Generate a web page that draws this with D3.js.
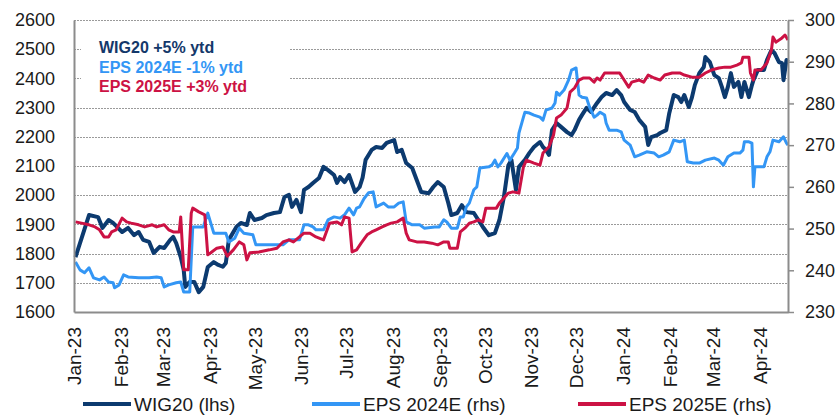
<!DOCTYPE html>
<html>
<head>
<meta charset="utf-8">
<script src="https://cdn.jsdelivr.net/npm/d3@7"></script>
<style>
  body { margin: 0; background: #fff; }
  svg { font-family: "Liberation Sans", Arial, sans-serif; display: block; }
</style>
</head>
<body>
<svg id="chart" width="837" height="415"></svg>
<script>
// values
const wig20 = [
  ["2023-01-02",1788],["2023-01-11",1932],["2023-01-17",1925],["2023-01-20",1888],["2023-01-24",1915],["2023-01-27",1905],
  ["2023-02-02",1874],["2023-02-06",1888],["2023-02-10",1863],["2023-02-13",1874],["2023-02-16",1847],["2023-02-20",1840],
  ["2023-02-23",1802],["2023-02-27",1823],["2023-03-02",1819],["2023-03-06",1847],["2023-03-08",1857],["2023-03-10",1836],
  ["2023-03-13",1788],["2023-03-15",1744],["2023-03-16",1686],["2023-03-19",1703],["2023-03-22",1703],["2023-03-25",1668],
  ["2023-03-28",1686],["2023-03-31",1754],["2023-04-04",1771],["2023-04-07",1761],["2023-04-10",1755],["2023-04-12",1768],
  ["2023-04-14",1847],["2023-04-19",1891],["2023-04-22",1905],["2023-04-26",1898],["2023-04-28",1939],["2023-05-01",1915],
  ["2023-05-06",1922],["2023-05-09",1932],["2023-05-14",1939],["2023-05-18",1942],["2023-05-21",1994],["2023-05-24",2001],
  ["2023-05-26",1960],["2023-05-29",1984],["2023-06-01",1942],["2023-06-03",2018],["2023-06-06",2028],["2023-06-09",2042],
  ["2023-06-13",2059],["2023-06-16",2097],["2023-06-19",2086],["2023-06-23",2069],["2023-06-25",2042],["2023-06-27",2062],
  ["2023-06-30",2045],["2023-07-03",2069],["2023-07-07",2011],["2023-07-10",2028],["2023-07-12",2060],["2023-07-14",2121],
  ["2023-07-18",2155],["2023-07-21",2165],["2023-07-25",2162],["2023-07-28",2179],["2023-08-02",2189],["2023-08-04",2148],
  ["2023-08-07",2155],["2023-08-10",2110],["2023-08-14",2093],["2023-08-17",2052],["2023-08-20",2011],["2023-08-25",2007],
  ["2023-08-28",2028],["2023-08-31",2045],["2023-09-04",2028],["2023-09-07",1973],["2023-09-09",1932],["2023-09-13",1939],
  ["2023-09-16",1966],["2023-09-19",1942],["2023-09-24",1939],["2023-09-27",1915],["2023-09-30",1891],["2023-10-04",1863],
  ["2023-10-08",1870],["2023-10-11",1915],["2023-10-14",1994],["2023-10-17",2103],["2023-10-19",2121],["2023-10-22",2018],
  ["2023-10-24",2097],["2023-10-28",2121],["2023-10-31",2145],["2023-11-03",2165],["2023-11-07",2182],["2023-11-09",2165],
  ["2023-11-11",2155],["2023-11-13",2138],["2023-11-15",2223],["2023-11-18",2247],["2023-11-21",2234],["2023-11-25",2216],
  ["2023-11-28",2206],["2023-11-30",2223],["2023-12-03",2258],["2023-12-05",2275],["2023-12-08",2299],["2023-12-11",2285],
  ["2023-12-15",2316],["2023-12-18",2336],["2023-12-21",2350],["2023-12-25",2343],["2023-12-28",2360],["2023-12-31",2343],
  ["2024-01-02",2319],["2024-01-06",2292],["2024-01-09",2285],["2024-01-12",2258],["2024-01-16",2234],["2024-01-18",2172],
  ["2024-01-20",2199],["2024-01-24",2206],["2024-01-26",2213],["2024-01-30",2223],["2024-02-01",2281],["2024-02-04",2343],
  ["2024-02-07",2336],["2024-02-09",2319],["2024-02-11",2343],["2024-02-14",2302],["2024-02-16",2333],["2024-02-18",2377],
  ["2024-02-21",2418],["2024-02-24",2439],["2024-02-25",2473],["2024-02-28",2456],["2024-03-02",2411],["2024-03-05",2401],
  ["2024-03-07",2371],["2024-03-09",2336],["2024-03-11",2371],["2024-03-13",2418],["2024-03-15",2371],["2024-03-18",2388],
  ["2024-03-20",2336],["2024-03-22",2388],["2024-03-25",2336],["2024-03-27",2377],["2024-03-28",2394],["2024-03-31",2429],
  ["2024-04-04",2429],["2024-04-06",2463],["2024-04-09",2497],["2024-04-11",2487],["2024-04-14",2456],["2024-04-16",2452],
  ["2024-04-17",2394],["2024-04-19",2463],["2024-04-20",2456]
];

const eps2024 = [
  ["2023-01-02",242.0],["2023-01-05",240.1],["2023-01-08",239.4],["2023-01-11",240.6],["2023-01-14",238.2],["2023-01-18",237.7],
  ["2023-01-21",238.4],["2023-01-24",237.2],["2023-01-27",237.0],["2023-01-28",235.8],["2023-01-31",236.5],["2023-02-03",238.9],
  ["2023-02-06",238.4],["2023-02-13",238.2],["2023-02-20",238.2],["2023-02-25",238.4],["2023-02-28",238.2],["2023-03-02",236.0],
  ["2023-03-05",236.5],["2023-03-10",237.0],["2023-03-13",237.2],["2023-03-15",234.8],["2023-03-19",234.8],["2023-03-21",250.4],
  ["2023-03-28",250.4],["2023-03-31",253.7],["2023-04-04",248.9],["2023-04-12",248.9],["2023-04-14",246.8],["2023-04-18",247.7],
  ["2023-04-21",250.1],["2023-04-24",248.9],["2023-04-30",248.5],["2023-05-02",246.1],["2023-05-20",246.1],["2023-05-24",247.3],
  ["2023-05-31",247.3],["2023-06-03",250.9],["2023-06-06",250.9],["2023-06-09",250.4],["2023-06-11",249.7],["2023-06-16",249.7],
  ["2023-06-19",252.1],["2023-06-23",252.8],["2023-06-27",252.5],["2023-06-30",253.3],["2023-07-03",254.9],["2023-07-06",253.3],
  ["2023-07-08",254.9],["2023-07-10",255.2],["2023-07-13",257.2],["2023-07-16",258.6],["2023-07-19",258.8],["2023-07-21",255.2],
  ["2023-07-26",256.1],["2023-07-29",255.2],["2023-08-02",255.2],["2023-08-05",256.1],["2023-08-08",256.4],["2023-08-10",251.6],
  ["2023-08-14",250.9],["2023-08-19",250.9],["2023-08-22",250.1],["2023-08-29",250.4],["2023-09-01",250.4],["2023-09-04",252.1],
  ["2023-09-06",251.6],["2023-09-09",250.1],["2023-09-13",250.1],["2023-09-15",252.8],["2023-09-17",252.8],["2023-09-19",255.2],
  ["2023-09-21",256.1],["2023-09-24",259.3],["2023-09-26",260.0],["2023-09-28",264.5],["2023-10-04",264.8],["2023-10-06",265.2],
  ["2023-10-08",266.4],["2023-10-10",264.8],["2023-10-12",265.7],["2023-10-16",268.0],["2023-10-18",266.4],["2023-10-21",268.1],
  ["2023-10-23",269.3],["2023-10-24",272.9],["2023-10-27",276.7],["2023-10-28",277.9],["2023-10-31",277.7],["2023-11-03",277.2],
  ["2023-11-07",276.7],["2023-11-09",276.0],["2023-11-11",278.4],["2023-11-15",278.9],["2023-11-17",280.1],["2023-11-18",282.7],
  ["2023-11-20",282.0],["2023-11-23",283.2],["2023-11-26",285.6],["2023-11-28",288.0],["2023-12-01",288.5],["2023-12-03",282.0],
  ["2023-12-05",281.5],["2023-12-08",281.3],["2023-12-10",279.1],["2023-12-13",276.7],["2023-12-15",277.2],["2023-12-17",277.9],
  ["2023-12-20",277.2],["2023-12-21",275.3],["2023-12-23",273.6],["2023-12-28",273.6],["2023-12-31",273.2],["2024-01-02",271.2],
  ["2024-01-06",270.0],["2024-01-09",267.2],["2024-01-12",267.6],["2024-01-17",268.4],["2024-01-22",268.1],["2024-01-25",267.2],
  ["2024-01-28",267.6],["2024-02-01",268.4],["2024-02-04",271.2],["2024-02-08",270.8],["2024-02-11",271.2],["2024-02-13",266.0],
  ["2024-02-17",265.7],["2024-02-21",265.7],["2024-02-25",266.4],["2024-03-02",266.9],["2024-03-05",266.4],["2024-03-08",265.2],
  ["2024-03-11",267.2],["2024-03-15",268.1],["2024-03-19",268.1],["2024-03-21",268.8],["2024-03-22",270.8],["2024-03-25",270.8],
  ["2024-03-27",270.5],["2024-03-28",260.0],["2024-03-29",264.8],["2024-04-04",264.8],["2024-04-06",267.2],["2024-04-08",268.4],
  ["2024-04-10",271.2],["2024-04-14",270.8],["2024-04-17",272.0],["2024-04-19",270.5],["2024-04-20",270.0]
];

const eps2025 = [
  ["2023-01-02",251.6],["2023-01-06",251.3],["2023-01-11",250.9],["2023-01-15",250.4],["2023-01-18",249.7],["2023-01-21",248.0],
  ["2023-01-24",248.0],["2023-01-26",249.2],["2023-01-29",249.7],["2023-02-02",252.5],["2023-02-05",251.6],["2023-02-08",251.3],
  ["2023-02-13",250.9],["2023-02-17",250.4],["2023-02-22",250.9],["2023-02-25",250.4],["2023-03-02",250.9],["2023-03-05",249.7],
  ["2023-03-08",249.2],["2023-03-12",249.2],["2023-03-13",252.8],["2023-03-15",240.1],["2023-03-18",240.1],["2023-03-20",253.7],
  ["2023-03-21",254.9],["2023-03-25",254.0],["2023-03-29",253.3],["2023-03-31",243.7],["2023-04-02",244.2],["2023-04-06",245.3],
  ["2023-04-10",245.6],["2023-04-13",243.4],["2023-04-17",244.9],["2023-04-21",246.8],["2023-04-24",246.1],["2023-04-26",242.5],
  ["2023-04-28",244.2],["2023-05-04",244.4],["2023-05-11",244.9],["2023-05-16",245.3],["2023-05-20",246.8],["2023-05-24",247.3],
  ["2023-05-27",246.8],["2023-05-31",248.0],["2023-06-03",248.9],["2023-06-07",248.9],["2023-06-11",248.0],["2023-06-16",247.3],
  ["2023-06-20",251.3],["2023-06-25",251.6],["2023-06-28",250.9],["2023-06-30",252.8],["2023-07-03",252.5],["2023-07-05",244.4],
  ["2023-07-08",244.9],["2023-07-11",246.5],["2023-07-15",248.5],["2023-07-18",249.2],["2023-07-21",249.7],["2023-07-25",250.4],
  ["2023-07-28",250.9],["2023-07-31",251.3],["2023-08-04",251.6],["2023-08-08",252.5],["2023-08-10",248.9],["2023-08-12",247.3],
  ["2023-08-17",246.8],["2023-08-22",246.8],["2023-08-27",246.5],["2023-08-31",246.1],["2023-09-04",246.8],["2023-09-07",246.8],
  ["2023-09-08",245.3],["2023-09-13",245.3],["2023-09-15",249.2],["2023-09-18",250.1],["2023-09-21",251.3],["2023-09-24",251.6],
  ["2023-09-27",252.1],["2023-09-30",251.6],["2023-10-02",254.9],["2023-10-09",254.9],["2023-10-11",256.1],["2023-10-14",257.3],
  ["2023-10-17",258.5],["2023-10-20",258.8],["2023-10-24",258.5],["2023-10-27",264.8],["2023-10-29",266.4],["2023-11-03",265.7],
  ["2023-11-07",265.2],["2023-11-09",268.1],["2023-11-13",269.6],["2023-11-16",272.4],["2023-11-18",276.5],["2023-11-21",277.2],
  ["2023-11-25",278.9],["2023-11-27",282.7],["2023-11-30",283.7],["2023-12-03",285.6],["2023-12-06",286.1],["2023-12-10",286.1],
  ["2023-12-13",285.1],["2023-12-15",286.1],["2023-12-17",285.6],["2023-12-20",287.3],["2023-12-30",287.3],["2024-01-02",285.6],
  ["2024-01-05",283.9],["2024-01-07",285.1],["2024-01-12",285.6],["2024-01-15",285.1],["2024-01-18",286.8],["2024-01-22",286.1],
  ["2024-01-26",285.6],["2024-01-29",286.8],["2024-02-03",287.3],["2024-02-08",287.3],["2024-02-11",286.8],["2024-02-16",286.3],
  ["2024-02-21",286.3],["2024-02-25",287.3],["2024-02-29",288.0],["2024-03-05",288.5],["2024-03-09",288.7],["2024-03-13",288.7],
  ["2024-03-17",289.2],["2024-03-20",289.7],["2024-03-21",291.1],["2024-03-25",291.1],["2024-03-26",287.3],["2024-03-28",285.6],
  ["2024-03-29",288.0],["2024-04-02",288.0],["2024-04-06",289.7],["2024-04-09",292.8],["2024-04-10",295.9],["2024-04-12",294.7],
  ["2024-04-16",295.7],["2024-04-18",296.4],["2024-04-20",295.2]
];

const leftTicks = [1600, 1700, 1800, 1900, 2000, 2100, 2200, 2300, 2400, 2500, 2600];
const rightTicks = [230, 240, 250, 260, 270, 280, 290, 300];
const xStart = "2023-01-01", xEnd = "2024-04-20";
const notes = ["WIG20 +5% ytd", "EPS 2024E -1% ytd", "EPS 2025E +3% ytd"];
const seriesNames = ["WIG20 (lhs)", "EPS 2024E (rhs)", "EPS 2025E (rhs)"];

const colors = ["#0c3a6f", "#3396f5", "#cc1244"];
const noteColors = ["#14386a", "#3396f5", "#cc1244"];

const parse = d3.timeParse("%Y-%m-%d");
const fmt = d3.timeFormat("%b-%y");

const config = {
  left: 74, right: 788, top: 20, bottom: 312
};

const svg = d3.select("#chart");

const x = d3.scaleTime()
  .domain([parse(xStart), parse(xEnd)])
  .range([config.left, config.right]);
const yL = d3.scaleLinear().domain([1600, 2600]).range([config.bottom, config.top]);
const yR = d3.scaleLinear().domain([230, 300]).range([config.bottom, config.top]);

// gridlines
svg.append("g")
  .selectAll("line")
  .data(leftTicks.slice(1))
  .enter()
  .append("line")
  .attr("x1", config.left)
  .attr("x2", config.right)
  .attr("y1", d => Math.round(yL(d)) + 0.5)
  .attr("y2", d => Math.round(yL(d)) + 0.5)
  .attr("stroke", "#9a9a9a")
  .attr("stroke-width", 1)
  .attr("stroke-dasharray", "2,1");

// white box behind the ytd notes
svg.append("rect")
  .attr("x", 81).attr("y", 31)
  .attr("width", 208).attr("height", 68)
  .attr("fill", "#fff");

// series lines
const line = scale => d3.line()
  .x(d => x(parse(d[0])))
  .y(d => scale(d[1]));

const series = [
  { data: wig20, scale: yL, width: 4 },
  { data: eps2024, scale: yR, width: 3 },
  { data: eps2025, scale: yR, width: 3 }
];

svg.append("g")
  .selectAll("path")
  .data(series)
  .enter()
  .append("path")
  .attr("d", d => line(d.scale)(d.data))
  .attr("fill", "none")
  .attr("stroke", (d, i) => colors[i])
  .attr("stroke-width", d => d.width)
  .attr("stroke-linejoin", "round");

// axes
const axisColor = "#8c8c8c";

const gL = svg.append("g")
  .attr("transform", `translate(${config.left},0)`)
  .call(d3.axisLeft(yL).tickValues(leftTicks).tickSize(0).tickPadding(19).tickFormat(d3.format("d")));

const gR = svg.append("g")
  .attr("transform", `translate(${config.right},0)`)
  .call(d3.axisRight(yR).tickValues(rightTicks).tickSize(6).tickSizeOuter(0).tickPadding(11));

const months = d3.timeMonth.range(parse("2023-01-01"), parse("2024-04-02"));
const gB = svg.append("g")
  .attr("transform", `translate(0,${config.bottom})`)
  .call(d3.axisBottom(x).tickValues(months).tickSize(0).tickFormat(fmt));

gB.selectAll("text")
  .attr("transform", "rotate(-90)")
  .attr("x", -15)
  .attr("y", 0)
  .attr("dy", "0.36em")
  .style("text-anchor", "end")
  .style("font-size", "19px");

[gL, gR, gB].forEach(g => {
  g.attr("font-family", null).attr("font-size", null);
  g.select(".domain").attr("stroke", axisColor).attr("stroke-width", 2);
  g.selectAll(".tick line").attr("stroke", axisColor).attr("stroke-width", 1.5);
  g.selectAll("text").attr("fill", "#1a1a1a");
});
gL.selectAll("text").style("font-size", "18px");
gR.selectAll("text").style("font-size", "18px");

// ytd notes
svg.append("g")
  .selectAll("text")
  .data(notes)
  .enter()
  .append("text")
  .attr("x", 99)
  .attr("y", (d, i) => 53 + i * 19.5)
  .attr("fill", (d, i) => noteColors[i])
  .style("font-size", "16px")
  .style("font-weight", "bold")
  .text(d => d);

// legend
const legendX = [83, 312, 578];
const leg = svg.append("g")
  .selectAll("g")
  .data(seriesNames)
  .enter()
  .append("g")
  .attr("transform", (d, i) => `translate(${legendX[i]},404)`);

leg.append("line")
  .attr("x1", 0).attr("x2", 48)
  .attr("stroke", (d, i) => colors[i])
  .attr("stroke-width", 4);

leg.append("text")
  .attr("x", 51)
  .attr("dy", "0.35em")
  .attr("fill", "#1a1a1a")
  .style("font-size", "19px")
  .text(d => d);
</script>
</body>
</html>
